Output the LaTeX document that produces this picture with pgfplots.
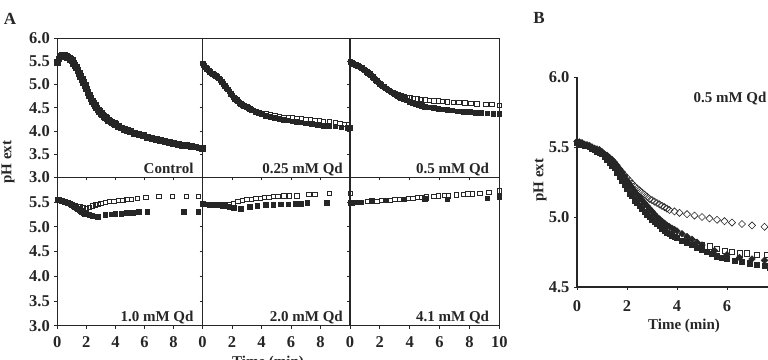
\documentclass[border=0pt]{standalone}
\usepackage{pgfplots}
\pgfplotsset{compat=1.18}
\usepackage{fontspec}
\setmainfont{Liberation Serif}
\newcommand{\ff}{\fontsize{15bp}{17bp}\selectfont\bfseries}
\newcommand{\tf}{\fontsize{16.5bp}{18bp}\selectfont\bfseries}
\definecolor{ink}{gray}{0.15}
\pgfplotsset{
  base/.style={scale only axis, tick align=outside, xtick pos=left, ytick pos=left,
    axis line style={line width=1.2bp, ink}, major tick style={line width=0.8bp, ink},
    major tick length=3bp, /pgf/number format/assume math mode=true,
    every tick label/.append style={font=\tf, text=ink},
    xticklabel style={yshift=-4bp}, yticklabel style={xshift=-1bp},
    clip=false},
  pA/.style={base, xmin=0, xmax=10, ymin=3, ymax=6, xtick={0,2,4,6,8,10},
    ytick={3,3.5,4,4.5,5,5.5,6}},
  fil/.style={only marks, mark=square*, mark size=2.3bp, color=ink, mark options={fill=ink, draw=ink}},
  hol/.style={only marks, mark=square, mark size=2.2bp, color=ink, mark options={fill=white, draw=ink, line width=0.6bp}},
}
\tikzset{lab/.style={anchor=base east, font=\ff, text=ink}}
\begin{document}
\begin{tikzpicture}
\path[use as bounding box] (0,0) rectangle (768bp,360bp);
% ---------- Panel A, top row ----------
\begin{axis}[pA, at={(57.3bp,321.7bp)}, anchor=north west, width=145.2bp, height=139bp,
  xticklabels={}, yticklabels={3.0,3.5,4.0,4.5,5.0,5.5,6.0}]
\addplot[fil, mark size=2.9bp] coordinates {(0,5.49)(0.1,5.56)(0.2,5.61)(0.3,5.63)(0.4,5.64)(0.5,5.63)(0.6,5.62)(0.7,5.60)(0.8,5.58)(0.9,5.55)(1.0,5.52)(1.1,5.47)(1.2,5.42)(1.3,5.37)(1.4,5.31)(1.5,5.25)(1.6,5.19)(1.7,5.12)(1.8,5.05)(1.9,4.98)(2.0,4.91)(2.1,4.84)(2.2,4.77)(2.3,4.71)(2.4,4.65)(2.5,4.60)(2.6,4.55)(2.7,4.50)(2.8,4.46)(2.9,4.42)(3.0,4.38)(3.1,4.35)(3.2,4.32)(3.3,4.29)(3.4,4.27)(3.5,4.24)(3.6,4.22)(3.7,4.20)(3.8,4.18)(3.9,4.16)(4.0,4.14)(4.2,4.11)(4.4,4.07)(4.6,4.04)(4.8,4.02)(5.0,3.99)(5.3,3.96)(5.6,3.93)(5.9,3.90)(6.2,3.87)(6.5,3.85)(6.8,3.82)(7.1,3.80)(7.4,3.78)(7.7,3.76)(8.0,3.74)(8.3,3.72)(8.6,3.70)(8.9,3.69)(9.2,3.67)(9.5,3.66)(9.8,3.64)(10.0,3.63)};
\node[lab] at (rel axis cs:0.962,0.025) {Control};
\end{axis}
\begin{axis}[pA, at={(202.5bp,321.7bp)}, anchor=north west, width=147.5bp, height=139bp,
  xticklabels={}, yticklabels={}]
\addplot[hol] coordinates {(4.0,4.38)(4.3,4.37)(4.6,4.35)(4.9,4.33)(5.2,4.32)(5.5,4.30)(5.8,4.29)(6.1,4.28)(6.4,4.27)(6.7,4.26)(7.0,4.25)(7.3,4.24)(7.6,4.23)(7.9,4.22)(8.2,4.21)(8.6,4.20)(9.0,4.19)(9.3,4.17)(9.6,4.15)(9.9,4.13)};
\addplot[fil] coordinates {(0,5.46)(0.1,5.42)(0.2,5.38)(0.3,5.34)(0.4,5.31)(0.5,5.28)(0.6,5.25)(0.7,5.23)(0.8,5.21)(0.9,5.19)(1.0,5.17)(1.1,5.14)(1.2,5.10)(1.3,5.06)(1.4,5.02)(1.5,4.98)(1.6,4.94)(1.7,4.90)(1.8,4.86)(1.9,4.81)(2.0,4.77)(2.1,4.73)(2.2,4.70)(2.3,4.67)(2.4,4.64)(2.5,4.61)(2.6,4.59)(2.7,4.57)(2.8,4.55)(2.9,4.535)(3.0,4.52)(3.1,4.50)(3.2,4.48)(3.3,4.465)(3.4,4.45)(3.6,4.42)(3.8,4.39)(4.0,4.36)(4.3,4.33)(4.6,4.31)(4.9,4.28)(5.2,4.26)(5.5,4.24)(5.8,4.23)(6.1,4.21)(6.4,4.20)(6.7,4.19)(7.0,4.17)(7.4,4.16)(7.8,4.14)(8.2,4.12)(8.6,4.11)(9.0,4.10)(9.4,4.08)(9.8,4.07)(10.0,4.07)};
\node[lab] at (rel axis cs:0.975,0.025) {0.25 mM Qd};
\end{axis}
\begin{axis}[pA, at={(350bp,321.7bp)}, anchor=north west, width=149.3bp, height=139bp,
  xticklabels={}, yticklabels={}]
\addplot[hol] coordinates {(3.0,4.80)(3.2,4.78)(3.4,4.76)(3.6,4.74)(3.8,4.73)(4.0,4.72)(4.25,4.70)(4.5,4.69)(4.75,4.68)(5.0,4.67)(5.3,4.66)(5.6,4.65)(5.9,4.65)(6.2,4.64)(6.5,4.63)(6.9,4.62)(7.3,4.62)(7.7,4.61)(8.1,4.60)(8.5,4.59)(9.1,4.58)(9.5,4.57)(10.0,4.56)};
\addplot[fil] coordinates {(0,5.49)(0.1,5.47)(0.2,5.45)(0.3,5.44)(0.4,5.43)(0.5,5.41)(0.6,5.40)(0.7,5.38)(0.8,5.36)(0.9,5.33)(1.0,5.31)(1.1,5.28)(1.2,5.26)(1.3,5.23)(1.4,5.20)(1.5,5.17)(1.6,5.14)(1.7,5.11)(1.8,5.08)(1.9,5.05)(2.0,5.02)(2.1,5.00)(2.2,4.97)(2.3,4.95)(2.4,4.92)(2.5,4.90)(2.6,4.88)(2.7,4.86)(2.8,4.84)(2.9,4.82)(3.0,4.80)(3.1,4.78)(3.2,4.76)(3.3,4.74)(3.4,4.72)(3.5,4.705)(3.6,4.69)(3.8,4.66)(4.0,4.63)(4.2,4.61)(4.4,4.59)(4.6,4.57)(4.8,4.55)(5.0,4.53)(5.3,4.51)(5.6,4.50)(5.9,4.48)(6.2,4.47)(6.5,4.46)(6.8,4.45)(7.2,4.43)(7.6,4.42)(8.0,4.41)(8.4,4.40)(8.8,4.39)(9.2,4.38)(9.6,4.37)(10.0,4.37)};
\node[lab] at (rel axis cs:0.955,0.025) {0.5 mM Qd};
\end{axis}
% ---------- Panel A, bottom row ----------
\begin{axis}[pA, at={(57.3bp,182.7bp)}, anchor=north west, width=145.2bp, height=148.4bp,
  xticklabels={0,2,4,6,8,}, yticklabels={3.0,3.5,4.0,4.5,5.0,5.5,}]
\addplot[hol] coordinates {(0,5.55)(0.3,5.53)(0.6,5.50)(0.9,5.47)(1.2,5.43)(1.4,5.41)(1.6,5.40)(1.8,5.38)(2.0,5.37)(2.2,5.39)(2.4,5.42)(2.6,5.44)(2.8,5.46)(3.0,5.47)(3.3,5.49)(3.6,5.51)(3.9,5.52)(4.2,5.53)(4.5,5.54)(4.8,5.55)(5.1,5.56)(5.5,5.57)(6.1,5.59)(7.0,5.61)(7.9,5.61)(8.9,5.62)(9.7,5.61)};
\addplot[fil] coordinates {(0,5.55)(0.1,5.545)(0.2,5.54)(0.3,5.53)(0.4,5.52)(0.5,5.51)(0.6,5.50)(0.7,5.49)(0.8,5.48)(0.9,5.465)(1.0,5.45)(1.1,5.43)(1.2,5.41)(1.3,5.39)(1.4,5.36)(1.5,5.34)(1.6,5.32)(1.7,5.30)(1.8,5.29)(1.9,5.27)(2.0,5.26)(2.1,5.25)(2.2,5.24)(2.4,5.22)(2.6,5.21)(2.8,5.20)(3.3,5.24)(3.7,5.25)(4.0,5.26)(4.4,5.27)(4.8,5.28)(5.2,5.29)(5.6,5.30)(6.2,5.30)(8.7,5.30)(9.7,5.30)};
\node[lab] at (rel axis cs:0.962,0.025) {1.0 mM Qd};
\end{axis}
\begin{axis}[pA, at={(202.5bp,182.7bp)}, anchor=north west, width=147.5bp, height=148.4bp,
  xticklabels={0,2,4,6,8,}, yticklabels={}]
\addplot[hol] coordinates {(0,5.47)(0.3,5.46)(0.6,5.45)(0.9,5.44)(1.2,5.44)(1.5,5.44)(1.8,5.45)(2.1,5.48)(2.4,5.51)(2.7,5.53)(3.0,5.55)(3.3,5.56)(3.6,5.57)(3.9,5.58)(4.2,5.59)(4.5,5.60)(4.8,5.61)(5.1,5.62)(5.5,5.63)(5.9,5.63)(6.4,5.63)(7.2,5.66)(7.6,5.66)(8.6,5.68)};
\addplot[fil] coordinates {(0,5.47)(0.15,5.46)(0.3,5.46)(0.45,5.45)(0.6,5.45)(0.75,5.44)(0.9,5.44)(1.05,5.44)(1.2,5.44)(1.35,5.43)(1.5,5.43)(1.8,5.41)(2.1,5.39)(2.6,5.37)(3.2,5.40)(3.7,5.42)(4.3,5.44)(4.8,5.45)(5.3,5.46)(5.8,5.46)(6.3,5.47)(6.7,5.47)(7.1,5.49)(8.4,5.49)};
\node[lab] at (rel axis cs:0.975,0.025) {2.0 mM Qd};
\end{axis}
\begin{axis}[pA, at={(350bp,182.7bp)}, anchor=north west, width=149.3bp, height=148.4bp,
  xticklabels={0,2,4,6,8,10}, yticklabels={}]
\addplot[hol] coordinates {(0,5.68)(1.2,5.51)(1.5,5.52)(1.8,5.52)(2.1,5.53)(2.4,5.54)(2.7,5.54)(3.0,5.55)(3.3,5.55)(3.6,5.56)(3.9,5.57)(4.2,5.58)(4.5,5.59)(4.8,5.60)(5.1,5.62)(5.6,5.62)(5.9,5.63)(6.3,5.64)(6.6,5.63)(7.1,5.65)(7.6,5.66)(7.9,5.67)(8.2,5.67)(8.7,5.68)(9.3,5.70)(10.0,5.73)};
\addplot[fil] coordinates {(0,5.49)(0.1,5.49)(0.2,5.50)(0.35,5.50)(0.7,5.50)(1.45,5.54)(2.4,5.54)(3.6,5.56)(5.0,5.57)(5.1,5.58)(6.5,5.56)(9.2,5.58)(10.0,5.61)};
\node[lab] at (rel axis cs:0.955,0.025) {4.1 mM Qd};
\end{axis}
\node[rotate=90, font=\ff, text=ink] at (8bp,198bp) {pH ext};
\node[anchor=north, font=\ff, text=ink, inner sep=0pt] at (268bp,4bp) {Time (min)};
\node[font=\fontsize{17bp}{19bp}\selectfont\bfseries, text=ink] at (10bp,341bp) {A};
% ---------- Panel B ----------
\begin{axis}[base, at={(577bp,283bp)}, anchor=north west, width=250bp, height=210bp,
  xmin=0, xmax=10, ymin=4.5, ymax=6, xtick={0,2,4,6,8,10}, ytick={4.5,5,5.5,6},
  yticklabels={4.5,5.0,5.5,6.0}, axis x line*=bottom, axis y line*=left,
  xticklabel style={yshift=-3bp}]
\addplot[only marks, mark=square, mark size=2.5bp, color=ink, mark options={rotate=45, fill=white, draw=ink, line width=0.6bp}] coordinates {(1.5,5.37)(1.6,5.355)(1.7,5.34)(1.8,5.32)(1.9,5.30)(2.0,5.28)(2.1,5.26)(2.2,5.24)(2.3,5.22)(2.4,5.205)(2.5,5.19)(2.6,5.175)(2.7,5.16)(2.8,5.145)(2.9,5.13)(3.0,5.12)(3.1,5.11)(3.2,5.10)(3.3,5.09)(3.4,5.08)(3.5,5.07)(3.6,5.06)(3.7,5.05)(3.9,5.04)(4.1,5.03)(4.4,5.02)(4.7,5.01)(5.0,5.00)(5.3,4.99)(5.6,4.98)(5.9,4.97)(6.2,4.96)(6.6,4.95)(7.0,4.94)(7.5,4.93)};
\addplot[hol, mark size=2.6bp] coordinates {(4.4,4.84)(4.7,4.82)(5.0,4.80)(5.3,4.79)(5.6,4.77)(5.9,4.76)(6.2,4.75)(6.5,4.74)(6.8,4.74)(7.2,4.73)(7.6,4.73)};
\addplot[only marks, mark=square*, mark size=2.4bp, color=ink, mark options={rotate=45, fill=ink, draw=ink}] coordinates {(0,5.54)(0.1,5.535)(0.2,5.53)(0.3,5.52)(0.4,5.515)(0.5,5.51)(0.6,5.50)(0.7,5.49)(0.8,5.485)(0.9,5.48)(1.0,5.465)(1.1,5.45)(1.2,5.44)(1.3,5.425)(1.4,5.41)(1.5,5.39)(1.6,5.37)(1.7,5.345)(1.8,5.32)(1.9,5.29)(2.0,5.26)(2.1,5.235)(2.2,5.21)(2.3,5.185)(2.4,5.16)(2.5,5.14)(2.6,5.12)(2.7,5.10)(2.8,5.08)(2.9,5.06)(3.0,5.04)(3.1,5.02)(3.2,5.00)(3.3,4.985)(3.4,4.97)(3.5,4.955)(3.6,4.94)(3.7,4.93)(3.8,4.92)(3.9,4.91)(4.0,4.90)(4.2,4.88)(4.4,4.86)(4.6,4.84)(4.8,4.82)(5.0,4.80)(5.5,4.76)(6.0,4.73)(6.5,4.71)(7.0,4.70)(7.5,4.69)};
\addplot[fil, mark size=2.6bp] coordinates {(0,5.53)(0.1,5.52)(0.2,5.52)(0.3,5.51)(0.4,5.51)(0.5,5.50)(0.6,5.49)(0.7,5.48)(0.8,5.47)(0.9,5.46)(1.0,5.45)(1.1,5.43)(1.2,5.41)(1.3,5.39)(1.4,5.37)(1.5,5.35)(1.6,5.32)(1.7,5.29)(1.8,5.26)(1.9,5.23)(2.0,5.20)(2.1,5.17)(2.2,5.15)(2.3,5.12)(2.4,5.10)(2.5,5.08)(2.6,5.06)(2.7,5.04)(2.8,5.02)(2.9,5.00)(3.0,4.98)(3.1,4.965)(3.2,4.95)(3.3,4.935)(3.4,4.92)(3.5,4.905)(3.6,4.89)(3.7,4.88)(3.8,4.87)(3.9,4.86)(4.0,4.85)(4.2,4.83)(4.4,4.82)(4.6,4.80)(4.8,4.78)(5.0,4.77)(5.2,4.75)(5.4,4.74)(5.6,4.72)(5.8,4.71)(6.0,4.70)(6.3,4.69)(6.6,4.68)(6.9,4.67)(7.2,4.66)(7.5,4.65)(7.7,4.64)};
\node[anchor=base west, font=\ff, text=ink] at (axis cs:4.52,5.82) {0.5 mM Qd};
\end{axis}
\node[rotate=90, font=\ff, text=ink] at (540bp,180bp) {pH ext};
\node[font=\ff, text=ink] at (684bp,34bp) {Time (min)};
\node[font=\fontsize{17bp}{19bp}\selectfont\bfseries, text=ink] at (539bp,342bp) {B};
\end{tikzpicture}
\end{document}
